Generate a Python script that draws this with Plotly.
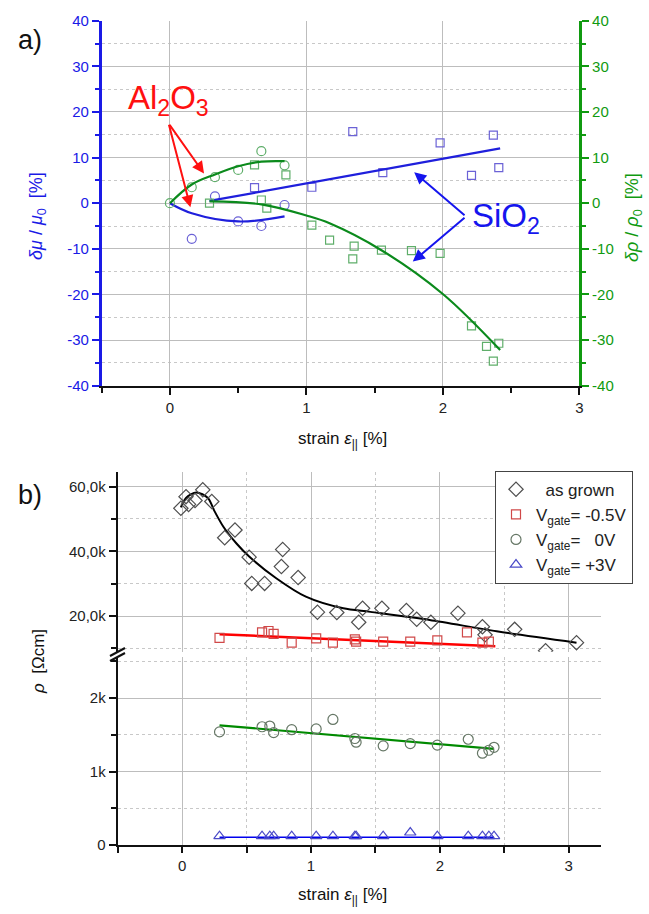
import plotly.graph_objects as go

W, H = 649, 914

# ---------------- panel a) data ----------------
al_strain_mu = [0.16, 0.33, 0.50, 0.67, 0.84]
al_mu = [-7.8, 1.5, -4.0, -5.0, -0.4]
al_strain_rho = [0.0, 0.16, 0.33, 0.50, 0.67, 0.84]
al_rho = [0.0, 3.5, 5.7, 7.3, 11.4, 8.3]
si_strain_mu = [0.62, 1.04, 1.34, 1.56, 1.98, 2.21, 2.37, 2.41]
si_mu = [3.4, 3.5, 15.7, 6.7, 13.2, 6.1, 14.9, 7.8]
si_strain_rho = [0.29, 0.62, 0.67, 0.71, 0.85, 1.04, 1.17, 1.34, 1.35, 1.55,
                 1.77, 1.98, 2.21, 2.32, 2.37, 2.41]
si_rho = [0.0, 8.4, 0.7, -1.1, 6.2, -4.8, -8.1, -12.2, -9.4, -10.3,
          -10.4, -11.0, -26.9, -31.4, -34.6, -30.7]

fit_al_mu_x = [0.0, 0.16, 0.50, 0.84]
fit_al_mu_y = [0.0, -2.2, -4.0, -2.9]
fit_al_rho_x = [0.0, 0.16, 0.33, 0.50, 0.67, 0.84]
fit_al_rho_y = [0.0, 4.1, 6.3, 8.1, 9.1, 9.2]
fit_si_mu_x = [0.29, 2.42]
fit_si_mu_y = [0.5, 12.0]
fit_si_rho_x = [0.29, 0.68, 1.00, 1.17, 1.55, 2.00, 2.42]
fit_si_rho_y = [0.4, -0.3, -2.7, -4.4, -10.3, -19.9, -32.2]

top_y_ticks = [-40, -30, -20, -10, 0, 10, 20, 30, 40]
top_y_labels = ["-40", "-30", "-20", "-10", "0", "10", "20", "30", "40"]

# ---------------- panel b) data ----------------
grown_x = [-0.01, 0.03, 0.05, 0.10, 0.16, 0.23, 0.33, 0.41, 0.52, 0.54, 0.64,
           0.77, 0.78, 0.90, 1.05, 1.20, 1.37, 1.40, 1.55, 1.74, 1.82, 1.93,
           2.14, 2.33, 2.35, 2.58, 2.82, 3.06]
grown_rho = [53300, 56900, 54500, 55700, 59000, 55400, 44200, 46600, 38200,
             30100, 30100, 35300, 40600, 31900, 21200, 21100, 18100, 22400,
             22400, 21700, 19000, 18100, 20900, 16700, 14200, 15900, 9300, 11800]
fit_grown_x = [-0.01, 0.03, 0.11, 0.20, 0.25, 0.32, 0.42, 0.52, 0.73, 0.96,
               1.25, 1.46, 1.92, 2.44, 3.06]
fit_grown_rho = [53600, 56500, 58200, 56500, 52500, 47600, 42500, 38400, 31700,
                 26000, 22400, 21300, 18800, 15300, 11800]

gm05_x = [0.29, 0.62, 0.67, 0.71, 0.85, 1.04, 1.17, 1.34, 1.35, 1.56, 1.77,
          1.98, 2.21, 2.33, 2.38]
gm05_rho = [13300, 15000, 15400, 14500, 11800, 13100, 11800, 12800, 12100,
            12100, 12100, 12500, 15000, 11800, 12100]
fit_gm05_x = [0.29, 2.43]
fit_gm05_rho = [14400, 10700]

g0_x = [0.29, 0.62, 0.68, 0.71, 0.85, 1.04, 1.17, 1.34, 1.35, 1.56, 1.77,
        1.98, 2.22, 2.33, 2.38, 2.42]
g0_rho = [1540, 1610, 1620, 1530, 1570, 1580, 1710, 1450, 1400, 1350, 1380,
          1360, 1440, 1250, 1290, 1330]
fit_g0_x = [0.29, 2.42]
fit_g0_rho = [1630, 1310]

g3_x = g0_x
g3_rho = [120, 120, 120, 120, 120, 120, 120, 120, 120, 120, 170,
          120, 120, 120, 120, 120]
fit_g3_x = [0.29, 2.42]
fit_g3_rho = [105, 105]

upper_ticks = [20000, 40000, 60000]
upper_labels = ["20,0k", "40,0k", "60,0k"]
lower_ticks = [0, 1000, 2000]
lower_labels = ["0", "1k", "2k"]

# ---------------- styling ----------------
FONT = "Liberation Sans, Arial, sans-serif"
BLUE_L = "#1f1fdc"
BLUE_M = "#6b62d6"
GREEN_L = "#0b8a1c"
GREEN_M = "#5fae6a"
AXBLUE = "#1a1ae6"
AXGREEN = "#109a10"
GRID = "#bdbdbd"


def px(x):
    return x / W


def py(y):
    return 1 - y / H


fig = go.Figure()

# panel a traces
fig.add_trace(go.Scatter(x=si_strain_mu, y=si_mu, mode="markers", xaxis="x", yaxis="y",
                         marker=dict(symbol="square-open", size=8, color=BLUE_M, line=dict(width=1.2)),
                         showlegend=False))
fig.add_trace(go.Scatter(x=al_strain_mu, y=al_mu, mode="markers", xaxis="x", yaxis="y",
                         marker=dict(symbol="circle-open", size=9, color=BLUE_M, line=dict(width=1.2)),
                         showlegend=False))
fig.add_trace(go.Scatter(x=si_strain_rho, y=si_rho, mode="markers", xaxis="x", yaxis="y4",
                         marker=dict(symbol="square-open", size=8, color=GREEN_M, line=dict(width=1.2)),
                         showlegend=False))
fig.add_trace(go.Scatter(x=al_strain_rho, y=al_rho, mode="markers", xaxis="x", yaxis="y4",
                         marker=dict(symbol="circle-open", size=9, color=GREEN_M, line=dict(width=1.2)),
                         showlegend=False))
fig.add_trace(go.Scatter(x=fit_al_mu_x, y=fit_al_mu_y, mode="lines", xaxis="x", yaxis="y",
                         line=dict(color=BLUE_L, width=2.2, shape="spline"), showlegend=False))
fig.add_trace(go.Scatter(x=fit_si_mu_x, y=fit_si_mu_y, mode="lines", xaxis="x", yaxis="y",
                         line=dict(color=BLUE_L, width=2.2), showlegend=False))
fig.add_trace(go.Scatter(x=fit_al_rho_x, y=fit_al_rho_y, mode="lines", xaxis="x", yaxis="y4",
                         line=dict(color=GREEN_L, width=2.2, shape="spline"), showlegend=False))
fig.add_trace(go.Scatter(x=fit_si_rho_x, y=fit_si_rho_y, mode="lines", xaxis="x", yaxis="y4",
                         line=dict(color=GREEN_L, width=2.2, shape="spline"), showlegend=False))

# panel b traces
fig.add_trace(go.Scatter(x=fit_grown_x, y=fit_grown_rho, mode="lines", xaxis="x2", yaxis="y2",
                         line=dict(color="black", width=2, shape="spline", smoothing=0.8), showlegend=False))
fig.add_trace(go.Scatter(x=fit_gm05_x, y=fit_gm05_rho, mode="lines", xaxis="x2", yaxis="y2",
                         line=dict(color="#ff0000", width=2.5), showlegend=False))
fig.add_trace(go.Scatter(x=fit_g0_x, y=fit_g0_rho, mode="lines", xaxis="x2", yaxis="y3",
                         line=dict(color="#008a00", width=2.2), showlegend=False))
fig.add_trace(go.Scatter(x=fit_g3_x, y=fit_g3_rho, mode="lines", xaxis="x2", yaxis="y3",
                         line=dict(color="#0000ee", width=1.6), showlegend=False))

NB = "\u00a0"
fig.add_trace(go.Scatter(x=grown_x, y=grown_rho, mode="markers", xaxis="x2", yaxis="y2",
                         name=NB * 2 + "as grown",
                         marker=dict(symbol="diamond-open", size=11, color="#505050", line=dict(width=1.2))))
fig.add_trace(go.Scatter(x=gm05_x, y=gm05_rho, mode="markers", xaxis="x2", yaxis="y2",
                         name="V<sub>gate</sub>= -0.5V",
                         marker=dict(symbol="square-open", size=9, color="#d04848", line=dict(width=1.2))))
fig.add_trace(go.Scatter(x=g0_x, y=g0_rho, mode="markers", xaxis="x2", yaxis="y3",
                         name="V<sub>gate</sub>=" + NB * 3 + "0V",
                         marker=dict(symbol="circle-open", size=10, color="#667766", line=dict(width=1.2))))
fig.add_trace(go.Scatter(x=g3_x, y=g3_rho, mode="markers", xaxis="x2", yaxis="y3",
                         name="V<sub>gate</sub>= +3V",
                         marker=dict(symbol="triangle-up-open", size=10, color="#4a4ac8", line=dict(width=1.2))))

tickfont = dict(family=FONT, size=15, color="#222222")

top_x_dom = [px(101.7), px(579.3)]
top_y_dom = [py(385.7), py(20.7)]
bot_x_dom = [px(117.7), px(601)]
up_y_dom = [py(651.7), py(471.7)]
lo_y_dom = [py(845), py(657)]

fig.update_layout(
    width=W, height=H, template="none",
    paper_bgcolor="white", plot_bgcolor="rgba(0,0,0,0)",
    margin=dict(l=0, r=0, t=0, b=0),
    font=dict(family=FONT, size=15, color="#222222"),
    xaxis=dict(domain=top_x_dom, anchor="y", range=[-0.5, 3], tick0=0, dtick=1,
               showline=True, linecolor="#111111", linewidth=2, ticks="outside",
               ticklen=7, tickwidth=1.5, tickcolor="#111111", tickfont=tickfont,
               showgrid=True, gridcolor=GRID, gridwidth=1, zeroline=False,
               minor=dict(dtick=0.5, tick0=0, ticks="outside", ticklen=5,
                          tickcolor="#111111", showgrid=False),
               automargin=False),
    xaxis3=dict(overlaying="x", side="top", anchor="y", range=[-0.5, 3], tick0=0, dtick=1,
                showline=True, linecolor="#111111", linewidth=2, ticks="inside",
                ticklen=7, tickwidth=1.5, tickcolor="#111111", showticklabels=False,
                showgrid=False, zeroline=False,
                minor=dict(dtick=0.5, tick0=0, ticks="inside", ticklen=5, tickcolor="#111111"),
                automargin=False),
    yaxis=dict(domain=top_y_dom, anchor="x", range=[-40, 40],
               tickmode="array", tickvals=top_y_ticks, ticktext=top_y_labels,
               showline=True, linecolor=AXBLUE, linewidth=2.5, ticks="outside",
               ticklen=7, tickwidth=1.5, tickcolor=AXBLUE,
               tickfont=dict(family=FONT, size=15, color=AXBLUE),
               showgrid=True, gridcolor=GRID, gridwidth=1, zeroline=False,
               minor=dict(dtick=5, tick0=0, ticks="outside", ticklen=4, tickcolor=AXBLUE,
                          showgrid=True, gridcolor="#c8c8c8", griddash="dot"),
               automargin=False),
    yaxis4=dict(overlaying="y", side="right", anchor="x", range=[-40, 40],
                tickmode="array", tickvals=top_y_ticks, ticktext=top_y_labels,
                showline=True, linecolor=AXGREEN, linewidth=2.5, ticks="outside",
                ticklen=7, tickwidth=1.5, tickcolor=AXGREEN,
                tickfont=dict(family=FONT, size=15, color=AXGREEN),
                showgrid=False, zeroline=False,
                minor=dict(dtick=5, tick0=0, ticks="outside", ticklen=4, tickcolor=AXGREEN),
                automargin=False),
    xaxis2=dict(domain=bot_x_dom, anchor="y3", range=[-0.5, 3.25], tick0=0, dtick=1,
                showline=True, linecolor="#111111", linewidth=2, ticks="outside",
                ticklen=6, tickwidth=1.5, tickcolor="#111111", tickfont=tickfont,
                showgrid=True, gridcolor=GRID, gridwidth=1, zeroline=False,
                minor=dict(dtick=0.5, tick0=0, ticks="outside", ticklen=6, tickcolor="#111111",
                           showgrid=True, gridcolor="#c8c8c8", griddash="dot"),
                automargin=False),
    yaxis2=dict(domain=up_y_dom, anchor="x2", range=[9000, 64600],
                tickmode="array", tickvals=upper_ticks, ticktext=upper_labels,
                showline=True, linecolor="#111111", linewidth=2, ticks="outside",
                ticklen=7, tickwidth=1.5, tickcolor="#111111", tickfont=tickfont,
                showgrid=True, gridcolor=GRID, gridwidth=1, zeroline=False,
                minor=dict(tickvals=[10000, 30000, 50000], ticks="outside", ticklen=5,
                           tickcolor="#111111", showgrid=True, gridcolor="#c8c8c8", griddash="dot"),
                automargin=False),
    yaxis3=dict(domain=lo_y_dom, anchor="x2", range=[0, 2560],
                tickmode="array", tickvals=lower_ticks, ticktext=lower_labels,
                showline=True, linecolor="#111111", linewidth=2, ticks="outside",
                ticklen=7, tickwidth=1.5, tickcolor="#111111", tickfont=tickfont,
                showgrid=True, gridcolor=GRID, gridwidth=1, zeroline=False,
                minor=dict(tickvals=[500, 1500, 2500], ticks="outside", ticklen=5,
                           tickcolor="#111111", showgrid=True, gridcolor="#c8c8c8", griddash="dot"),
                automargin=False),
    legend=dict(x=px(495), y=py(470.7), xanchor="left", yanchor="top",
                bgcolor="white", bordercolor="#444444", borderwidth=1,
                font=dict(family=FONT, size=17, color="#222222"),
                tracegroupgap=0, itemwidth=30),
)

ann = []


def label(text, x, y, size, color, angle=0):
    ann.append(dict(text=text, x=px(x), y=py(y), xref="paper", yref="paper", showarrow=False,
                    xanchor="center", yanchor="middle", textangle=angle,
                    font=dict(family=FONT, size=size, color=color)))


# panel labels
label("a)", 30, 40, 27, "#111111")
label("b)", 30, 495, 27, "#111111")
# axis titles
xt = "strain <i>ε</i><sub>||</sub> [%]"
label(xt, 342, 440, 17, "#111111")
label(xt, 342, 896, 17, "#111111")
label("<i>δμ</i> / <i>μ</i><sub>0</sub>  [%]", 37, 216, 18, AXBLUE, -90)
label("<i>δρ</i> / <i>ρ</i><sub>0</sub>  [%]", 634, 218, 18, AXGREEN, -90)
label("<i>ρ</i>  [Ωcm]", 38, 662, 17, "#111111", -90)
# material labels
label("Al<sub>2</sub>O<sub>3</sub>", 168, 100, 33, "#ff1010")
label("SiO<sub>2</sub>", 506, 218, 33, "#1515ee")
# arrows (data coords)
for hx, hy in [(0.25, 6.5), (0.15, -0.9)]:
    ann.append(dict(text="", x=hx, y=hy, ax=-0.01, ay=17.5, xref="x", yref="y", axref="x", ayref="y",
                    showarrow=True, arrowhead=2, arrowsize=1.2, arrowwidth=2, arrowcolor="#ff1010"))
for hx, hy in [(1.79, 6.8), (1.78, -12.8)]:
    ann.append(dict(text="", x=hx, y=hy, ax=2.17, ay=-2.9, xref="x", yref="y", axref="x", ayref="y",
                    showarrow=True, arrowhead=2, arrowsize=1.2, arrowwidth=2, arrowcolor="#1515ee"))
fig.update_layout(annotations=ann)

# axis break marks
shapes = []
for dy in [0, 5]:
    shapes.append(dict(type="line", xref="paper", yref="paper",
                       x0=px(110), y0=py(656 + dy), x1=px(125), y1=py(648 + dy),
                       line=dict(color="#111111", width=2)))
fig.update_layout(shapes=shapes)

fig.write_html("out.html", config={"displayModeBar": False},
               post_script="document.body.style.margin='0px';")
